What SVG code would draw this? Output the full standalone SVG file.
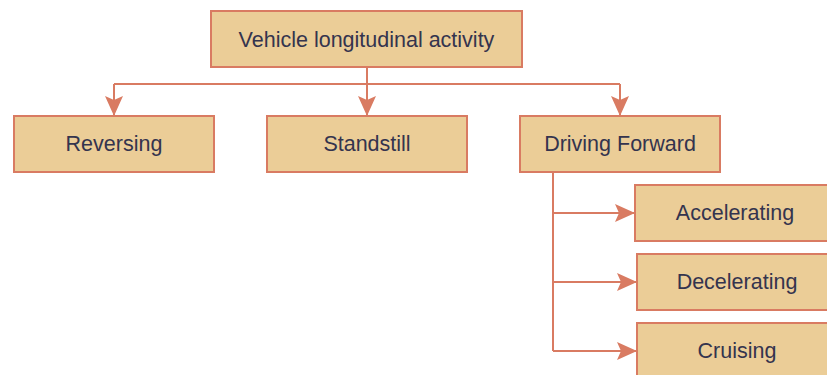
<svg xmlns="http://www.w3.org/2000/svg" width="827" height="375" viewBox="0 0 827 375">
<style>
.box{fill:#EBCD97;stroke:#D97B62;stroke-width:2}
.lbl{font-family:"Liberation Sans",Arial,sans-serif;font-size:21.5px;fill:#34344E;text-anchor:middle;dominant-baseline:central}
.edge{fill:none;stroke:#D97B62;stroke-width:2}
</style>
<defs>
<marker id="ah" viewBox="0 0 20 18" refX="19" refY="9" markerWidth="20" markerHeight="18" markerUnits="userSpaceOnUse" orient="auto">
<path d="M0,0 L20,9 L0,18 L4,9 Z" fill="#D97B62"/>
</marker>
</defs>
<rect width="827" height="375" fill="#FFFFFF"/>
<g id="connectors">
<path class="edge" d="M367,67 V84"/>
<path class="edge" d="M114,84 H620"/>
<path class="edge" d="M114,84 V115" marker-end="url(#ah)"/>
<path class="edge" d="M367,84 V115" marker-end="url(#ah)"/>
<path class="edge" d="M620,84 V115" marker-end="url(#ah)"/>
<path class="edge" d="M553,172 V351"/>
<path class="edge" d="M553,213 H634" marker-end="url(#ah)"/>
<path class="edge" d="M553,282 H636" marker-end="url(#ah)"/>
<path class="edge" d="M553,351 H636" marker-end="url(#ah)"/>
</g>
<g id="root"><rect class="box" x="211" y="11" width="311" height="56"/><text class="lbl" x="366.5" y="40">Vehicle longitudinal activity</text></g>
<g id="reversing"><rect class="box" x="14" y="116" width="200" height="56"/><text class="lbl" x="114" y="144">Reversing</text></g>
<g id="standstill"><rect class="box" x="267" y="116" width="200" height="56"/><text class="lbl" x="367" y="144">Standstill</text></g>
<g id="driving"><rect class="box" x="520" y="116" width="200" height="56"/><text class="lbl" x="620" y="144">Driving Forward</text></g>
<g id="accelerating"><rect class="box" x="635" y="185" width="200" height="56"/><text class="lbl" x="735" y="213">Accelerating</text></g>
<g id="decelerating"><rect class="box" x="637" y="254" width="200" height="56"/><text class="lbl" x="737" y="282">Decelerating</text></g>
<g id="cruising"><rect class="box" x="637" y="323" width="200" height="56"/><text class="lbl" x="737" y="351">Cruising</text></g>
</svg>
